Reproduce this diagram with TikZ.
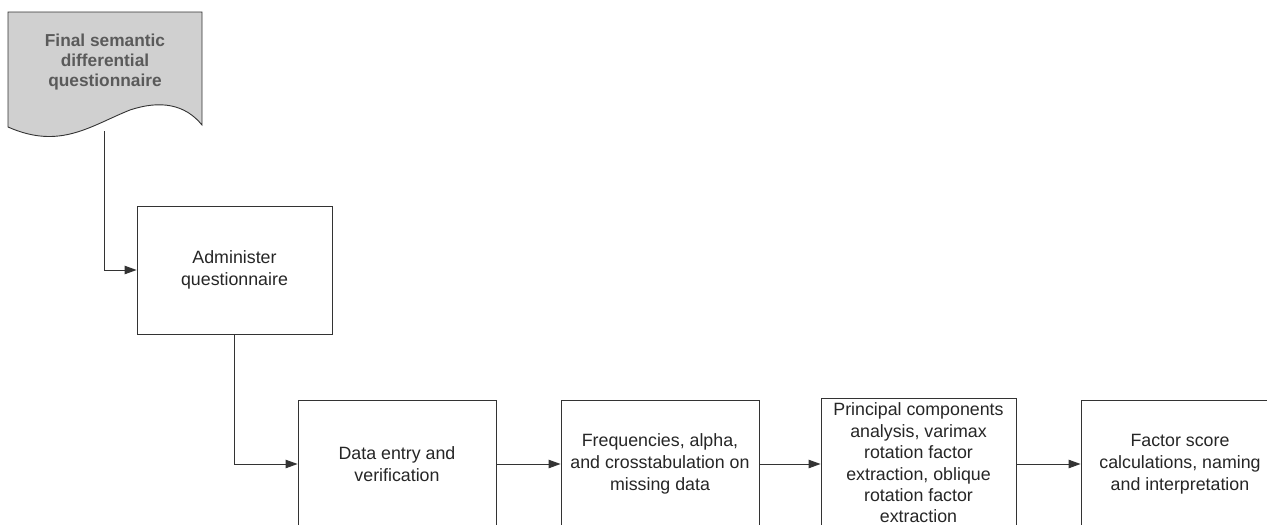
\documentclass[tikz,border=0pt]{standalone}
\usepackage{fontspec}
\setmainfont{Liberation Sans}
\usetikzlibrary{arrows.meta}
\definecolor{lineclr}{HTML}{333333}
\definecolor{docfill}{HTML}{D0D0D0}
\definecolor{doctext}{HTML}{5A5A5A}
\begin{document}
\begin{tikzpicture}[x=1pt,y=-1pt,
  stepbox/.style={draw=lineclr, line width=0.9pt, fill=white, rectangle,
    align=center, text=black!85, inner sep=0pt,
    font=\fontsize{17.8}{21.8}\selectfont},
  flow/.style={draw=lineclr, line width=0.9pt,
    -{Triangle[length=12pt,width=8.5pt]}},
]
\clip (0,0) rectangle (1267,525);
\fill[white] (0,0) rectangle (1267,525);

% document shape with wavy bottom edge
\draw[lineclr, line width=0.9pt, fill=docfill]
  (8,12) -- (202,12) -- (202,125)
  .. controls (185,104) and (160,100) .. (130,110)
  .. controls (90,126) and (60,150) .. (8,127) -- cycle;
\node[text=doctext, align=center, font=\bfseries\fontsize{17.3}{20}\selectfont]
  (doc) at (105,62) {Final semantic\\differential\\questionnaire};
\coordinate (docbot) at (104,131);

% process steps
\node[stepbox, minimum width=195pt, minimum height=128pt] (admin) at (234.5,270)
  {Administer\\questionnaire};
\node[stepbox, minimum width=198pt, minimum height=128pt] (entry) at (397,464)
  {Data entry and\\verification};
\node[stepbox, minimum width=198pt, minimum height=128pt] (freq) at (660,464)
  {Frequencies, alpha,\\and crosstabulation on\\missing data};
\node[stepbox, minimum width=195pt, minimum height=130pt,
  font=\fontsize{17.8}{21.4}\selectfont] (pca) at (918.5,463)
  {Principal components\\analysis, varimax\\rotation factor\\extraction, oblique\\rotation factor\\extraction};
\node[stepbox, minimum width=198pt, minimum height=128pt] (score) at (1180,464)
  {Factor score\\calculations, naming\\and interpretation};

% connectors
\draw[flow] (docbot) |- (admin.west);
\draw[flow] (admin.south) |- (entry.west);
\draw[flow] (entry.east) -- (freq.west);
\draw[flow] (freq.east) -- (freq.east -| pca.west);
\draw[flow] (pca.east |- score.west) -- (score.west);
\end{tikzpicture}
\end{document}
